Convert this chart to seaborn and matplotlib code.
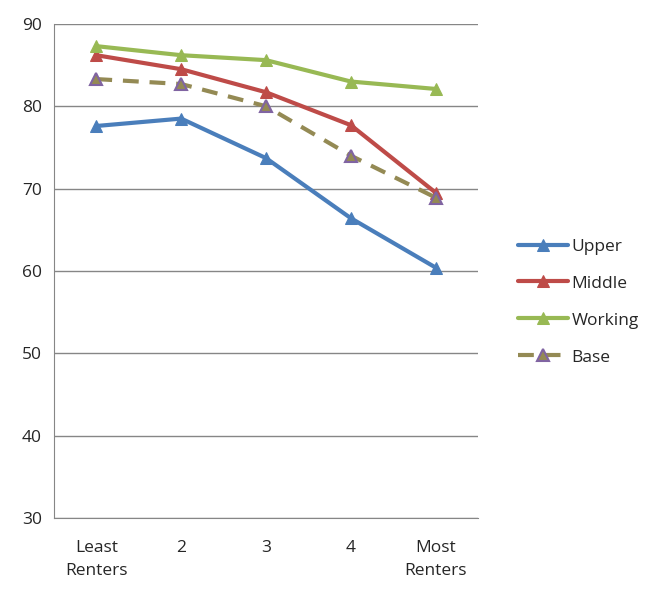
import pandas as pd
import seaborn as sns
import matplotlib.pyplot as plt

categories = ["Least\nRenters", "2", "3", "4", "Most\nRenters"]
upper = [77.6, 78.5, 73.7, 66.4, 60.4]
middle = [86.2, 84.5, 81.7, 77.7, 69.5]
working = [87.3, 86.2, 85.6, 83.0, 82.1]
base = [83.3, 82.7, 80.0, 74.0, 68.9]

series = {"Upper": upper, "Middle": middle, "Working": working, "Base": base}
colors = {"Upper": "#4A7EBB", "Middle": "#BE4B48", "Working": "#98B954", "Base": "#948A54"}

rows = []
for name, vals in series.items():
    for i, v in enumerate(vals):
        rows.append({"pos": i, "value": v, "group": name})
df = pd.DataFrame(rows)

sns.set_style("white")
plt.rcParams['font.family'] = ['Open Sans', 'DejaVu Sans']

fig = plt.figure(figsize=(6.65, 5.98), dpi=100)
ax = fig.add_axes([0.081, 0.134, 0.638, 0.826])

for name in series:
    d = df[df.group == name]
    if name == "Base":
        sns.lineplot(data=d, x="pos", y="value", ax=ax, color=colors[name], lw=3,
                     dashes=False, linestyle=(0, (3.8, 2.6)), marker="^", markersize=9,
                     markerfacecolor=colors[name], markeredgecolor="#8064A2",
                     markeredgewidth=1.5, label=name)
    else:
        sns.lineplot(data=d, x="pos", y="value", ax=ax, color=colors[name], lw=3,
                     marker="^", markersize=9, markerfacecolor=colors[name],
                     markeredgecolor=colors[name], label=name)

ax.set_xlim(-0.5, 4.5)
ax.set_ylim(30, 90)
ax.set_yticks(range(30, 91, 10))
ax.yaxis.grid(True, color="#868686", lw=1)
ax.set_xticks([x - 0.5 for x in range(6)])
ax.set_xticklabels([])
ax.set_xticks(range(5), minor=True)
ax.set_xticklabels(categories, minor=True, fontsize=12.5, linespacing=1.55)
ax.tick_params(axis="x", which="minor", length=0, pad=16)
ax.tick_params(axis="x", which="major", length=5, color="#868686", direction="out")
ax.tick_params(axis="y", length=5, color="#868686", direction="out", labelsize=12.5)
ax.set_xlabel("")
ax.set_ylabel("")
for s in ["top", "right"]:
    ax.spines[s].set_visible(False)
for s in ["left", "bottom"]:
    ax.spines[s].set_color("#868686")

handles, labels = ax.get_legend_handles_labels()
ax.get_legend().remove()
fig.legend(handles, labels, loc="center left", bbox_to_anchor=(0.755, 0.495),
           frameon=False, fontsize=12.5, labelspacing=1.2, handlelength=2.9,
           handletextpad=0.2)

fig.savefig("out.png", dpi=100)
